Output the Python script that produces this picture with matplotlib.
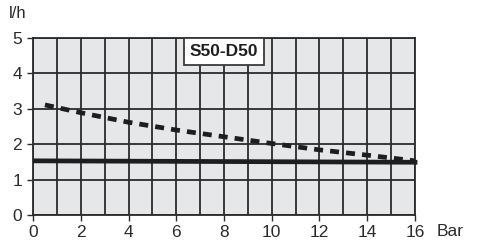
import numpy as np
import matplotlib
matplotlib.use("Agg")
from matplotlib import pyplot as plt

plt.rcParams["font.family"] = ["Liberation Sans", "DejaVu Sans"]

# flow rate vs pressure
solid_x = [0, 16.1]
solid_y = [1.53, 1.49]

dash_x = [0.5, 2, 4, 6, 8, 10, 12, 14, 16]
dash_y = [3.11, 2.89, 2.62, 2.40, 2.21, 2.02, 1.84, 1.69, 1.53]

x_ticks = [0, 2, 4, 6, 8, 10, 12, 14, 16]
y_ticks = [0, 1, 2, 3, 4, 5]
model = "S50-D50"

fig = plt.figure(figsize=(4.8, 2.44), dpi=100)
ax = fig.add_axes([33 / 480, 1 - 215 / 244, 382 / 480, 177 / 244])
ax.set_facecolor("#e6e7e8")

ax.set_xlim(0, 16)
ax.set_ylim(0, 5)
ax.set_xticks(np.arange(0, 17, 1), minor=True)
ax.set_xticks(x_ticks)
ax.set_yticks(y_ticks)
ax.grid(True, which="both", color="#2b2b2b", linewidth=1.3)
ax.set_axisbelow(True)
ax.tick_params(axis="both", which="major", length=4, width=1, color="#2b2b2b",
               labelsize=12.5, labelcolor="#2b2b2b")
ax.tick_params(axis="x", which="major", pad=3)
ax.tick_params(axis="y", which="major", pad=4)
ax.tick_params(axis="x", which="minor", length=0)
for s in ax.spines.values():
    s.set_color("#2b2b2b")
    s.set_linewidth(1.3)

ax.plot(solid_x, solid_y, color="#1e1e1e", linewidth=3.4, solid_capstyle="butt",
        clip_on=False, zorder=3)
ax.plot(dash_x, dash_y, color="#1e1e1e", linewidth=3.4, dashes=(1.9, 1.5),
        clip_on=False, zorder=3)

ax.text(8.0, 4.61, model, fontsize=12.5, fontweight="bold", color="#1e1e1e",
        ha="center", va="center",
        bbox=dict(boxstyle="square,pad=0.35", facecolor="white", edgecolor="#3a3a3a",
                  linewidth=1.3))

fig.text(9 / 480, 1 - 13 / 244, "l/h", fontsize=12, color="#2b2b2b", va="center")
fig.text(437 / 480, 1 - 231 / 244, "Bar", fontsize=12.5, color="#2b2b2b", va="center")

fig.savefig("out.png", dpi=100)
